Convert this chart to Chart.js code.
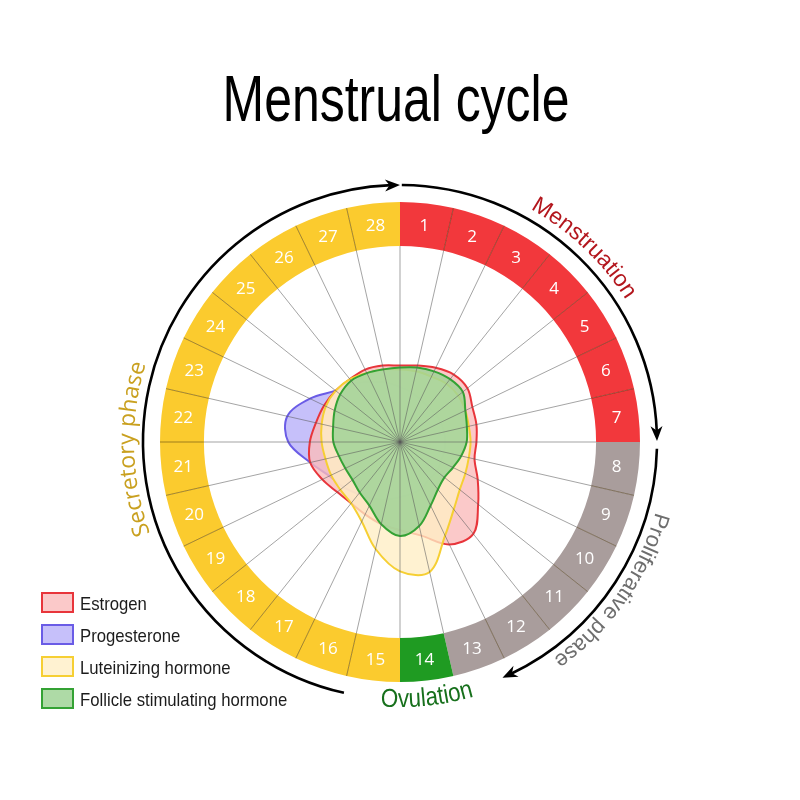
<!DOCTYPE html>
<html lang="en">
<head>
<meta charset="UTF-8">
<title>Menstrual cycle</title>
<script src="https://cdn.jsdelivr.net/npm/chart.js"></script>
<style>
  body { margin: 0; background: #fff; }
  #wrap { position: relative; width: 800px; height: 800px; overflow: hidden; background: #fff; }
  #wrap canvas { position: absolute; left: 0; top: 0; }
  #title {
    position: absolute; left: -4px; top: 67px; width: 800px; text-align: center;
    font: 64px/64px "Liberation Sans", Arial, sans-serif; color: #000;
    transform: scaleX(0.78);
  }
  #legend { position: absolute; left: 41px; top: 592px; }
  .row { position: relative; height: 32px; }
  .box { position: absolute; left: 0; top: 0; width: 29px; height: 17px; border: 2px solid; }
  .lbl {
    position: absolute; left: 39px; top: 0; white-space: nowrap;
    font: 19px/24px "Liberation Sans", Arial, sans-serif; color: #1c1c1c;
    transform: scaleX(0.88); transform-origin: left center;
  }
</style>
</head>
<body>
<div id="wrap">
  <canvas id="ring" width="800" height="800"></canvas>
  <canvas id="hormones" width="800" height="800"></canvas>
  <div id="title">Menstrual cycle</div>
  <div id="legend"></div>
</div>

<script>
// ---- data ----
const days = ['1','2','3','4','5','6','7','8','9','10','11','12','13','14',
              '15','16','17','18','19','20','21','22','23','24','25','26','27','28'];

// phases of the cycle: name, length in days, ring colour, label colour
const phaseNames = ['Menstruation', 'Proliferative phase', 'Ovulation', 'Secretory phase'];
const phaseLengths = [7, 6, 1, 14];
const phaseColors = ['#f2383c', '#a99d9c', '#1f9b22', '#fbcb2e'];
const phaseTextColors = ['#b3161d', '#6e6e6e', '#17701c', '#c9a01f'];

// hormone levels on each day spoke (0-100, 100 = inner edge of the ring)
const hormoneNames = ['Estrogen', 'Progesterone', 'Luteinizing hormone', 'Follicle stimulating hormone'];
const estrogen     = [39,40,42,44,44,41,40,39,39,44,51,60,58,49,45,43,41,40,41,44,47,46,44,43,42,41,41,40];
const progesterone = [28,26,24,23,23,23,23,23,23,23,24,24,26,27,28,30,32,34,37,40,47,57,59,51,42,38,34,31];
const lh           = [37,37,37,38,38,37,36,36,36,37,39,44,53,68,66,56,45,40,39,39,39,40,41,42,42,41,39,38];
const fsh          = [38,39,40,41,41,37,35,34,32,30,29,31,36,44,48,43,36,33,31,31,32,34,35,37,39,40,39,38];

const hormoneBorders = ['#e8353b', '#6a5ce6', '#f6cf33', '#34a234'];
const hormoneFills = ['rgba(250,188,188,0.8)', 'rgba(198,192,250,1)', 'rgba(255,238,196,0.78)', 'rgba(160,211,150,0.85)'];

// each day is an equal slice of the ring
const daySpan = days.map(() => 1);
const ringColors = [];
phaseLengths.forEach((n, p) => { for (let i = 0; i < n; i++) ringColors.push(phaseColors[p]); });

// ---- helpers ----
const rad = d => d * Math.PI / 180;

// text along a circle; outward = letters' tops point away from centre, reading clockwise
function arcText(ctx, cx, cy, text, r, centerDeg, font, color, outward, squeeze) {
  ctx.save();
  ctx.font = font;
  ctx.fillStyle = color;
  ctx.textAlign = 'center';
  ctx.textBaseline = 'alphabetic';
  const chars = [...text];
  const widths = chars.map(c => ctx.measureText(c).width * squeeze);
  const total = widths.reduce((a, b) => a + b, 0);
  const dir = outward ? 1 : -1;
  let ang = rad(centerDeg) - dir * total / 2 / r;
  chars.forEach((ch, i) => {
    const a = ang + dir * widths[i] / 2 / r;
    ctx.save();
    ctx.translate(cx, cy);
    ctx.rotate(outward ? a : a + Math.PI);
    ctx.translate(0, outward ? -r : r);
    ctx.scale(squeeze, 1);
    ctx.fillText(ch, 0, 0);
    ctx.restore();
    ang += dir * widths[i] / r;
  });
  ctx.restore();
}

// clockwise arc with an arrow head at the end (angles clockwise from top)
function arrowArc(ctx, cx, cy, r, fromDeg, toDeg) {
  const head = 15, half = 6;
  const stop = toDeg - (head * 0.6 / r) * 180 / Math.PI;
  ctx.beginPath();
  ctx.arc(cx, cy, r, rad(fromDeg - 90), rad(stop - 90));
  ctx.stroke();
  const t = rad(toDeg);
  const tx = cx + r * Math.sin(t), ty = cy - r * Math.cos(t);
  const b = rad(toDeg - (head / r) * 180 / Math.PI);
  const bx = cx + r * Math.sin(b), by = cy - r * Math.cos(b);
  const len = Math.hypot(tx - bx, ty - by);
  const dx = (tx - bx) / len, dy = (ty - by) / len;
  const nx = -dy, ny = dx;
  ctx.beginPath();
  ctx.moveTo(tx, ty);
  ctx.lineTo(tx - dx * head + nx * half, ty - dy * head + ny * half);
  ctx.lineTo(tx - dx * head * 0.7, ty - dy * head * 0.7);
  ctx.lineTo(tx - dx * head - nx * half, ty - dy * head - ny * half);
  ctx.closePath();
  ctx.fill();
}

// ring decorations: day separators, day numbers, arrows, phase labels
const ringDecor = {
  id: 'ringDecor',
  afterDatasetsDraw(chart) {
    const ctx = chart.ctx;
    const arcs = chart.getDatasetMeta(0).data;
    const { x: cx, y: cy, outerRadius: ro, innerRadius: ri } = arcs[0];

    ctx.save();
    ctx.strokeStyle = 'rgba(70,50,10,0.5)';
    ctx.lineWidth = 1;
    arcs.forEach((a, i) => {
      if (ringColors[i] !== ringColors[(i + days.length - 1) % days.length]) return;
      const c = Math.cos(a.startAngle), s = Math.sin(a.startAngle);
      ctx.beginPath();
      ctx.moveTo(cx + ri * c, cy + ri * s);
      ctx.lineTo(cx + ro * c, cy + ro * s);
      ctx.stroke();
    });

    ctx.fillStyle = '#fff';
    ctx.font = '17px "Open Sans", sans-serif';
    ctx.textAlign = 'center';
    ctx.textBaseline = 'middle';
    arcs.forEach((a, i) => {
      const p = a.getCenterPoint();
      ctx.fillText(days[i], p.x, p.y + 1);
    });

    // arrows
    const ra = ro + 17;
    ctx.strokeStyle = '#000';
    ctx.fillStyle = '#000';
    ctx.lineWidth = 2.6;
    arrowArc(ctx, cx, cy, ra, 192.6, 360);
    arrowArc(ctx, cx, cy, ra, 0.4, 89.8);
    arrowArc(ctx, cx, cy, ra, 91.5, 156.5);
    ctx.restore();

    // phase labels
    arcText(ctx, cx, cy, phaseNames[0], ro + 27, 43.5, '23px "Liberation Sans", Arial', phaseTextColors[0], true, 1);
    arcText(ctx, cx, cy, phaseNames[1], ro + 25, 125, '22px "Liberation Sans", Arial', phaseTextColors[1], true, 1);
    arcText(ctx, cx, cy, phaseNames[2], ro + 25, 174, '26px "Liberation Sans", Arial', phaseTextColors[2], false, 0.86);
    arcText(ctx, cx, cy, phaseNames[3], ro + 26, 268.5, '23px "Open Sans", sans-serif', phaseTextColors[3], true, 1);
  }
};

new Chart(document.getElementById('ring'), {
  type: 'doughnut',
  data: {
    labels: days,
    datasets: [{ data: daySpan, backgroundColor: ringColors, borderWidth: 0, hoverOffset: 0 }]
  },
  options: {
    responsive: false,
    animation: false,
    events: [],
    cutout: '81.7%',
    layout: { padding: { left: 160, right: 160, top: 202, bottom: 118 } },
    plugins: { legend: { display: false }, tooltip: { enabled: false } }
  },
  plugins: [ringDecor]
});

const series = [estrogen, progesterone, lh, fsh];
const stackOrder = [2, 3, 1, 0]; // FSH on top, progesterone at the bottom

new Chart(document.getElementById('hormones'), {
  type: 'radar',
  data: {
    labels: days,
    datasets: series.map((d, i) => ({
      label: hormoneNames[i],
      data: d,
      borderColor: hormoneBorders[i],
      backgroundColor: hormoneFills[i],
      borderWidth: 2,
      fill: true,
      tension: 0.35,
      pointRadius: 0,
      order: stackOrder[i]
    }))
  },
  options: {
    responsive: false,
    animation: false,
    events: [],
    layout: { padding: { left: 204, right: 204, top: 246, bottom: 162 } },
    plugins: { legend: { display: false }, tooltip: { enabled: false } },
    scales: {
      r: {
        min: 0,
        max: 100,
        z: 1,
        ticks: { display: false },
        grid: { display: false, z: 1 },
        angleLines: { display: true, color: 'rgba(90,90,90,0.55)', lineWidth: 1 },
        pointLabels: { display: false }
      }
    }
  }
});

// legend
const legend = document.getElementById('legend');
hormoneNames.forEach((name, i) => {
  const row = document.createElement('div');
  row.className = 'row';
  row.innerHTML = `<div class="box" style="border-color:${hormoneBorders[i]};background:${hormoneFills[i]}"></div>
                   <div class="lbl">${name}</div>`;
  legend.appendChild(row);
});
</script>
</body>
</html>
